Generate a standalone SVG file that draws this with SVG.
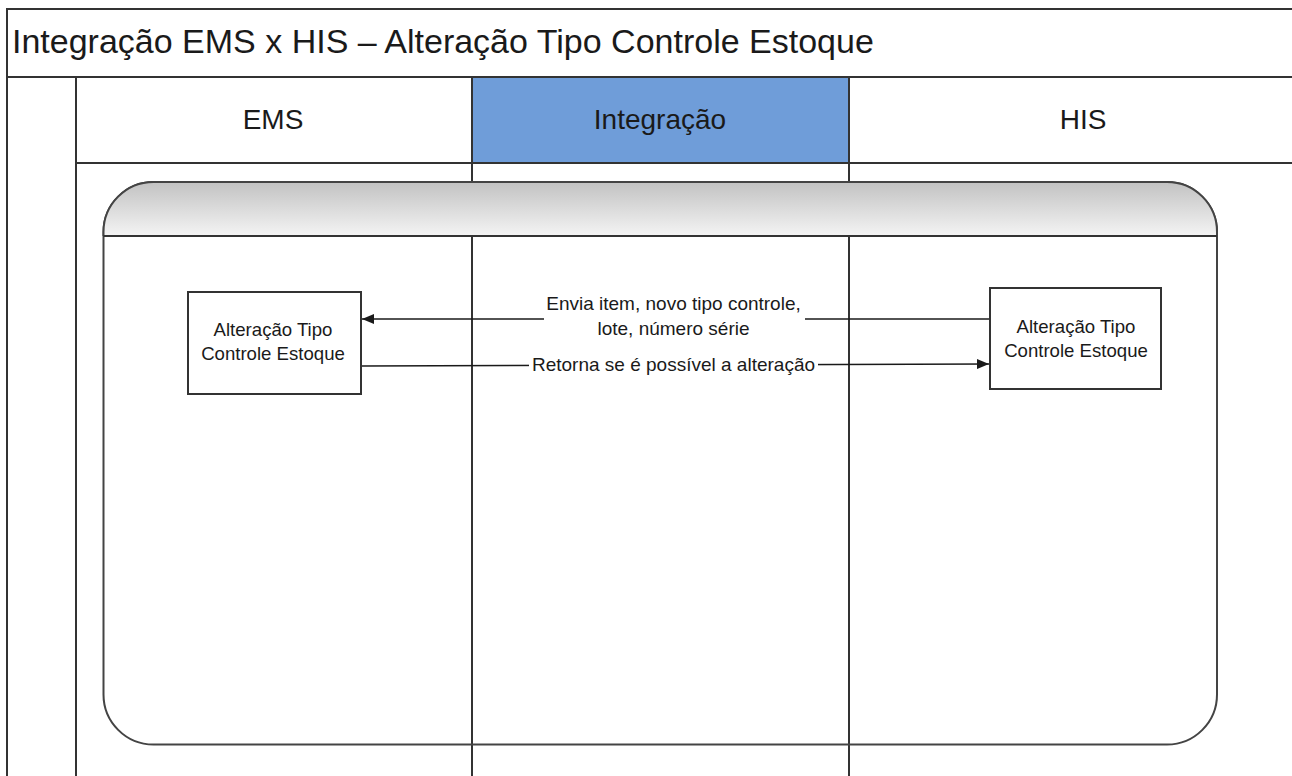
<svg xmlns="http://www.w3.org/2000/svg" width="1292" height="776" viewBox="0 0 1292 776">
<style>
.ln{stroke:#333;stroke-width:2;fill:none}
.t{font-family:"Liberation Sans",Arial,sans-serif;fill:#1a1a1a}
.title{font-size:34px}
.hdr{font-size:28px;text-anchor:middle}
.box{fill:#fff;stroke:#333;stroke-width:2}
.bt{font-size:18.6px;text-anchor:middle}
.lab{font-size:19px;text-anchor:middle}
.conn{stroke:#1a1a1a;stroke-width:1.6;fill:none}
</style>
<defs>
<linearGradient id="band" gradientUnits="userSpaceOnUse" x1="0" y1="184" x2="0" y2="236">
<stop offset="0" stop-color="#c4c4c4"/>
<stop offset="1" stop-color="#f4f4f4"/>
</linearGradient>
<clipPath id="bandclip">
<rect x="100" y="178" width="1122" height="58"/>
</clipPath>
<marker id="arr" viewBox="0 0 12 10" refX="12" refY="5" markerWidth="12" markerHeight="10" markerUnits="userSpaceOnUse" orient="auto">
<path d="M0,0 L12,5 L0,10 Z" fill="#1a1a1a"/>
</marker>
</defs>
<rect width="1292" height="776" fill="#fff"/>
<g id="pool">
<rect x="472" y="77" width="377" height="86" fill="#6f9dd9"/>
<path class="ln" d="M7,790 V9 H1300 M7,77 H1300 M76,77 V790 M76,163 H1300 M472,77 V790 M849,77 V790"/>
<text class="t title" x="12" y="53">Integração EMS x HIS – Alteração Tipo Controle Estoque</text>
<text class="t hdr" x="273" y="129">EMS</text>
<text class="t hdr" x="660" y="129">Integração</text>
<text class="t hdr" x="1083" y="129">HIS</text>
</g>
<g id="container">
<rect x="103.5" y="182" width="1113.5" height="562.5" rx="50" ry="50" fill="none" stroke="#444" stroke-width="2"/>
<rect x="103.5" y="182" width="1113.5" height="562.5" rx="50" ry="50" fill="url(#band)" stroke="#444" stroke-width="2" clip-path="url(#bandclip)"/>
<line class="ln" x1="103.5" y1="236" x2="1217" y2="236"/>
</g>
<g id="connectors">
<line class="conn" x1="989" y1="319" x2="362" y2="319" marker-end="url(#arr)"/>
<line class="conn" x1="362" y1="366" x2="989" y2="364" marker-end="url(#arr)"/>
<rect x="544" y="292" width="261" height="47" fill="#fff"/>
<text class="t lab" x="673.5" y="310">Envia item, novo tipo controle,</text>
<text class="t lab" x="673.5" y="335">lote, número série</text>
<rect x="529" y="355" width="289" height="20" fill="#fff"/>
<text class="t lab" x="673.5" y="371">Retorna se é possível a alteração</text>
</g>
<g id="node-ems">
<rect class="box" x="188" y="292" width="173" height="102"/>
<text class="t bt" x="273" y="336">Alteração Tipo</text>
<text class="t bt" x="273" y="360">Controle Estoque</text>
</g>
<g id="node-his">
<rect class="box" x="990" y="288" width="171" height="101"/>
<text class="t bt" x="1076" y="333">Alteração Tipo</text>
<text class="t bt" x="1076" y="357">Controle Estoque</text>
</g>
</svg>
